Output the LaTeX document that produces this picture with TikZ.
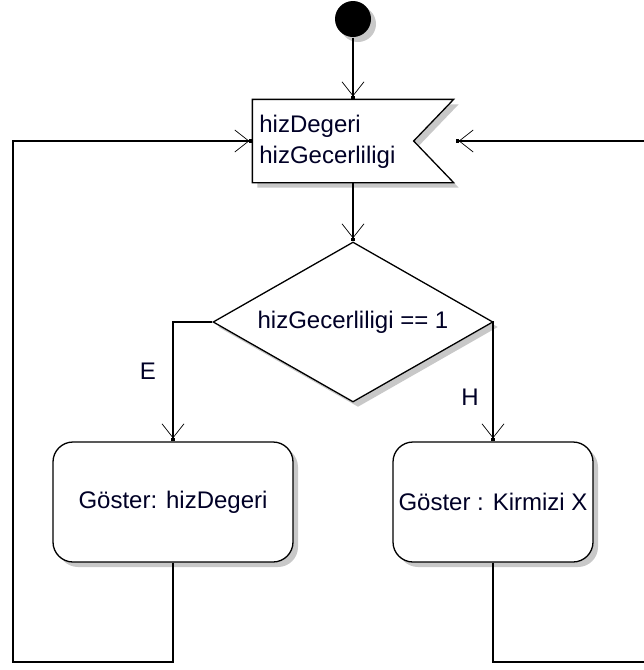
\documentclass[tikz,border=0pt]{standalone}
\usepackage{fontspec}
\setmainfont{Liberation Sans}
\usetikzlibrary{arrows.meta,shapes.geometric,shadows}
\definecolor{shadowgray}{RGB}{200,200,200}
\begin{document}
\begin{tikzpicture}[x=1pt,y=-1pt,
  line width=1.3pt,
  shdw/.style={drop shadow={shadow xshift=5pt,shadow yshift=-5pt,fill=shadowgray,opacity=1}},
  arr/.style={-{Straight Barb[length=14pt,width=22pt,line width=0.7pt]Square[length=3pt,width=4pt]}},
  txt/.style={font=\fontsize{24}{31}\selectfont,text=black!85!blue},
  actbox/.style={draw,rounded corners=20pt,fill=white,shdw,minimum height=120pt,txt},
]
\useasboundingbox (0,0) rectangle (644,670);
% start
\node[circle,fill=black,minimum size=36pt,inner sep=0,shdw] (start) at (353,19) {};
% receive signal
\node[minimum width=200pt,minimum height=82pt,inner sep=0] (recv) at (353,141) {};
\fill[shadowgray] ([shift={(5,5)}]recv.north west) -- ([shift={(5,5)}]recv.north east)
  -- ([shift={(-35,5)}]recv.east) -- ([shift={(5,5)}]recv.south east)
  -- ([shift={(5,5)}]recv.south west) -- cycle;
\draw[fill=white] (recv.north west) -- (recv.north east) -- ([xshift=-40pt]recv.east)
  -- (recv.south east) -- (recv.south west) -- cycle;
\node[txt,anchor=west,align=left] (recvtxt) at ([xshift=3pt,yshift=-1pt]recv.west) {hizDegeri\\hizGecerliligi};
% decision
\node[diamond,draw,fill=white,shdw,aspect=1.75,minimum width=280pt,minimum height=160pt,inner sep=0,txt] (dec) at (353,322) {hizGecerliligi == 1};
% actions
\node[actbox,minimum width=240pt] (boxE) at (173,502) {Göster: hizDegeri};
\node[actbox,minimum width=200pt] (boxH) at (493,502) {Göster : Kirmizi X};
% labels
\node[txt] (lE) at (148,371) {E};
\node[txt] (lH) at (470,397) {H};
% loop corners
\coordinate (lb) at (13,662);
\coordinate (rb) at (652,662);
% connectors
\draw[arr] (start) -- (recv.north);
\draw[arr] (recv.south) -- (dec.north);
\draw[arr] (dec.west) -| (boxE.north);
\draw[arr] (dec.east) -| (boxH.north);
\draw[arr] (boxE.south) |- (lb) |- (recv.west);
\draw[arr] (boxH.south) |- (rb) |- ([xshift=2pt]recv.east);
\end{tikzpicture}
\end{document}
